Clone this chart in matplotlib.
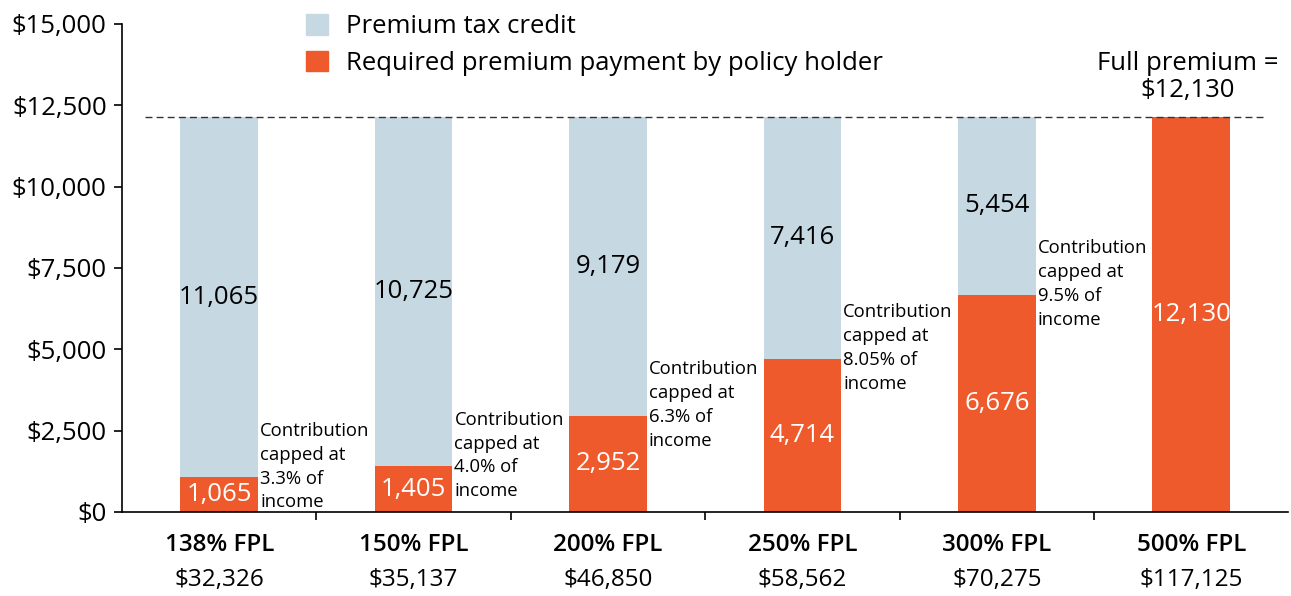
import matplotlib
matplotlib.use("Agg")
import matplotlib.pyplot as plt
from matplotlib.patches import Patch
from matplotlib.ticker import FuncFormatter

plt.rcParams['font.family'] = ['Open Sans', 'DejaVu Sans']

fpl = ["138% FPL", "150% FPL", "200% FPL", "250% FPL", "300% FPL", "500% FPL"]
incomes = ["$32,326", "$35,137", "$46,850", "$58,562", "$70,275", "$117,125"]
required = [1065, 1405, 2952, 4714, 6676, 12130]
credit = [11065, 10725, 9179, 7416, 5454, 0]
caps = ["3.3%", "4.0%", "6.3%", "8.05%", "9.5%", None]
full_premium = 12130

blue = "#c6d9e3"
orange = "#ef5a2c"

fig = plt.figure(figsize=(12.91, 5.96), dpi=100)
ax = fig.add_axes([0.0945, 0.141, 0.9035, 0.819])

x = list(range(len(fpl)))
w = 0.4
ax.bar(x, required, w, color=orange, linewidth=0)
ax.bar(x, credit, w, bottom=required, color=blue, linewidth=0)

for i in x:
    r, c = required[i], credit[i]
    ax.text(i, r / 2, f"{r:,}", ha="center", va="center", color="white", fontsize=18.5)
    if c:
        ax.text(i, r + c / 2, f"{c:,}", ha="center", va="center", color="black", fontsize=18.5)
    if caps[i]:
        ax.text(i + w / 2 + 0.01, r + 330, f"Contribution\ncapped at\n{caps[i]} of\nincome",
                ha="left", va="center", fontsize=13.3, linespacing=1.42)

ax.plot([-0.38, 5.37], [full_premium, full_premium], ls=(0, (5, 3)), color="#333333", lw=1)
ax.text(4.98, full_premium + 450, f"Full premium =\n${full_premium:,}", ha="center", va="bottom",
        fontsize=18.5, linespacing=1.1)

ax.set_xlim(-0.5, 5.5)
ax.set_ylim(0, 15000)
ax.set_yticks(range(0, 15001, 2500))
ax.yaxis.set_major_formatter(FuncFormatter(lambda v, p: f"${v:,.0f}"))
ax.tick_params(axis="y", labelsize=18.5, length=6, width=1.2, pad=5)

ax.set_xticks(x)
ax.set_xticklabels([])
ax.tick_params(axis="x", which="major", length=0)
ax.set_xticks([i + 0.5 for i in x[:-1]], minor=True)
ax.tick_params(axis="x", which="minor", length=6, width=1.2)
for i in x:
    ax.text(i, -1000, fpl[i], ha="center", va="center", fontsize=17.5, fontweight="semibold")
    ax.text(i, -2080, incomes[i], ha="center", va="center", fontsize=17.5)

for s in ["top", "right"]:
    ax.spines[s].set_visible(False)
for s in ["left", "bottom"]:
    ax.spines[s].set_linewidth(1.2)

handles = [Patch(color=blue, label="Premium tax credit"),
           Patch(color=orange, label="Required premium payment by policy holder")]
fig.legend(handles=handles, loc="upper left", bbox_to_anchor=(0.219, 1.015), frameon=False,
           fontsize=18.5, handlelength=0.85, handleheight=0.85, handletextpad=0.7, labelspacing=0.45)

fig.savefig("out.png", dpi=100)
